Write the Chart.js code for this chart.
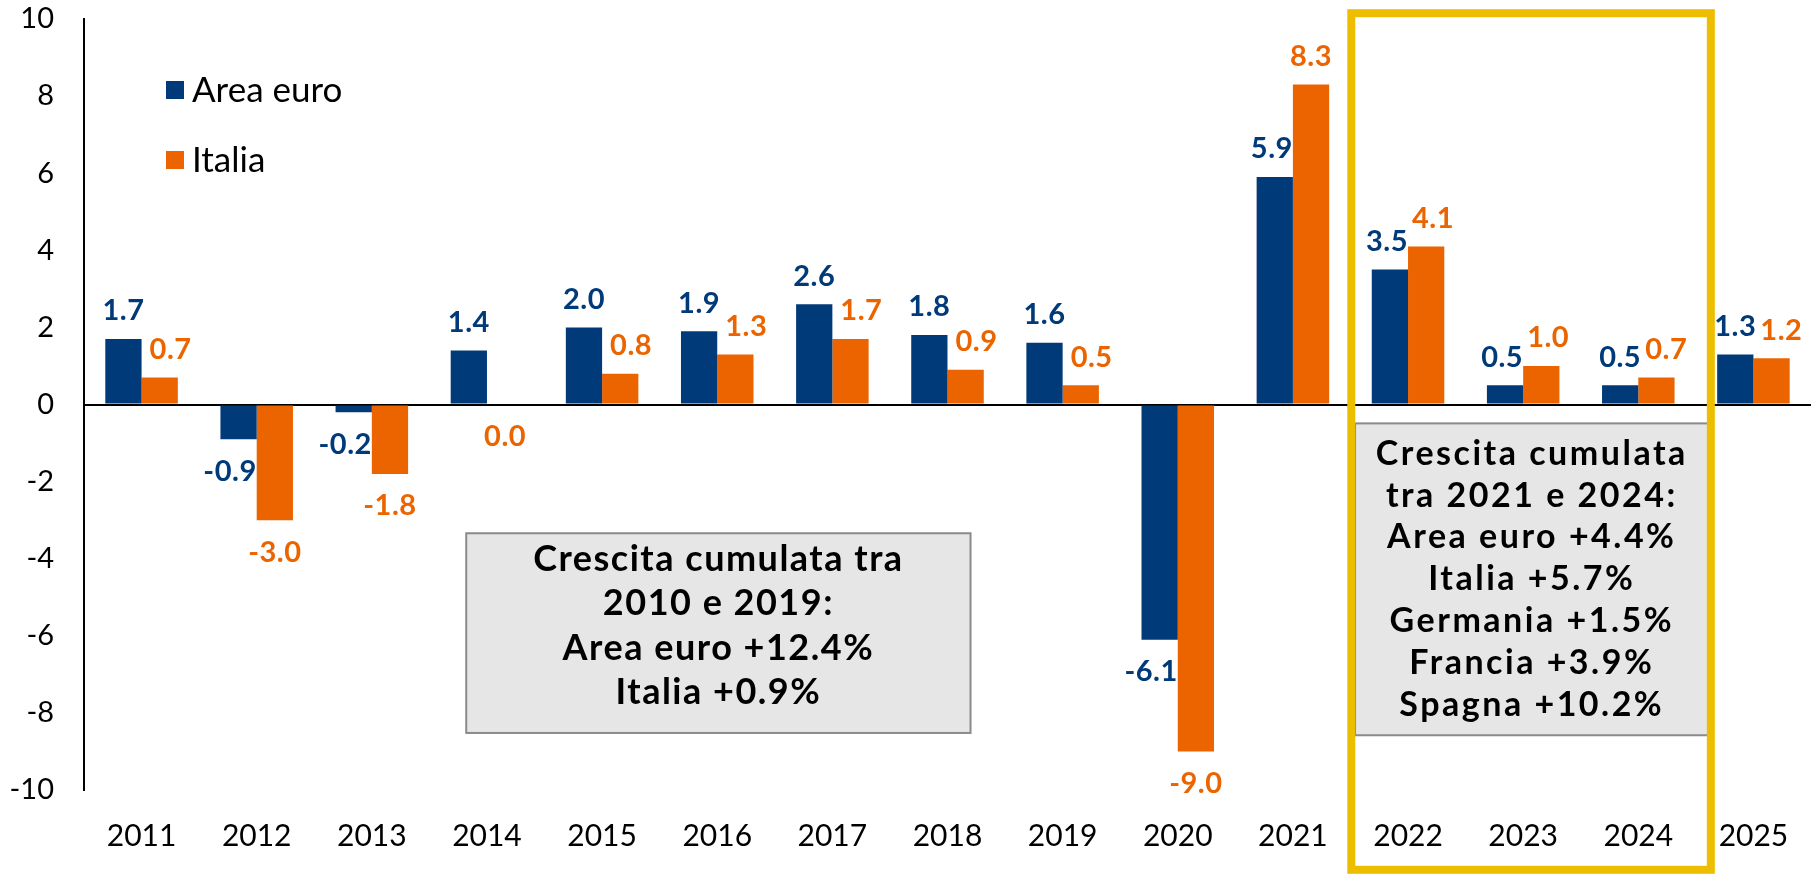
<!DOCTYPE html>
<html>
<head>
<meta charset="utf-8">
<script src="https://cdn.jsdelivr.net/npm/chart.js@4.4.1/dist/chart.umd.min.js"></script>
<style>
  html, body { margin: 0; padding: 0; background: #fff; }
  #wrap { width: 1816px; height: 878px; }
</style>
</head>
<body>
<div id="wrap"><canvas id="growth" width="1816" height="878"></canvas></div>
<script>
// real GDP growth, % yoy
const years = ['2011', '2012', '2013', '2014', '2015', '2016', '2017', '2018',
               '2019', '2020', '2021', '2022', '2023', '2024', '2025'];
const areaEuro = [1.7, -0.9, -0.2, 1.4, 2.0, 1.9, 2.6, 1.8, 1.6, -6.1, 5.9, 3.5, 0.5, 0.5, 1.3];
const italia   = [0.7, -3.0, -1.8, 0.0, 0.8, 1.3, 1.7, 0.9, 0.5, -9.0, 8.3, 4.1, 1.0, 0.7, 1.2];

const box1Lines = ['Crescita cumulata tra', '2010 e 2019:', 'Area euro +12.4%', 'Italia +0.9%'];
const box2Lines = ['Crescita cumulata', 'tra 2021 e 2024:', 'Area euro +4.4%', 'Italia +5.7%',
                   'Germania +1.5%', 'Francia +3.9%', 'Spagna +10.2%'];

const BLUE = '#003a78';
const ORANGE = '#eb6400';
const FONT = 'Lato';

// annotation boxes, in axis units (x = category index, y = value)
const notes = [
    { x0: 2.82, x1: 7.20, y0: -3.34, y1: -8.52, lines: box1Lines, gap: 44.5, dy: -7, size: 36, spacing: '1.5px' },
    { x0: 10.54, x1: 13.61, y0: -0.49, y1: -8.58, lines: box2Lines, gap: 41.8, dy: 0, size: 34, spacing: '2.5px' },
];
const frame = { x0: 10.507, x1: 13.63, y0: 10.15, y1: -12.07 };

const notesPlugin = {
    id: 'notes',
    afterDatasetsDraw(chart) {
        const ctx = chart.ctx
        const xs = chart.scales.x, ys = chart.scales.y
        ctx.save()
        notes.forEach((n) => {
            const l = xs.getPixelForValue(n.x0), r = xs.getPixelForValue(n.x1)
            const t = ys.getPixelForValue(n.y0), b = ys.getPixelForValue(n.y1)
            ctx.fillStyle = '#e6e6e6'
            ctx.fillRect(l, t, r - l, b - t)
            ctx.strokeStyle = '#8a8a8a'
            ctx.lineWidth = 2
            ctx.strokeRect(l, t, r - l, b - t)
            ctx.fillStyle = '#000'
            ctx.font = 'bold ' + n.size + 'px ' + FONT
            ctx.letterSpacing = n.spacing
            ctx.textAlign = 'center'
            ctx.textBaseline = 'middle'
            const cy = (t + b) / 2 + n.dy - (n.lines.length - 1) * n.gap / 2
            n.lines.forEach((s, i) => ctx.fillText(s, (l + r) / 2, cy + i * n.gap))
        })
        ctx.restore()
    },
    afterDraw(chart) {
        const ctx = chart.ctx
        const xs = chart.scales.x, ys = chart.scales.y
        const l = xs.getPixelForValue(frame.x0), r = xs.getPixelForValue(frame.x1)
        const t = ys.getPixelForValue(frame.y0), b = ys.getPixelForValue(frame.y1)
        ctx.save()
        ctx.strokeStyle = '#edbe00'
        ctx.lineWidth = 8
        ctx.strokeRect(l, t, r - l, b - t)

        // legend, top left inside the plot
        const ca = chart.chartArea
        ctx.font = '35px ' + FONT
        ctx.textBaseline = 'middle'
        ctx.textAlign = 'left'
        chart.data.datasets.forEach((ds, i) => {
            const y = ca.top + 71 + i * 70
            ctx.fillStyle = ds.backgroundColor
            ctx.fillRect(ca.left + 82, y - 9, 18, 18)
            ctx.fillStyle = '#000'
            ctx.fillText(ds.label, ca.left + 108, y + 1)
        })
        ctx.restore()
    }
};

// value labels, nudged sideways like excel does when they hit the other bar
const labelsPlugin = {
    id: 'barLabels',
    afterDatasetsDraw(chart) {
        const ctx = chart.ctx
        const zero = chart.scales.y.getPixelForValue(0)
        const m0 = chart.getDatasetMeta(0), m1 = chart.getDatasetMeta(1)
        const H = 13
        ctx.save()
        ctx.font = 'bold 29px ' + FONT
        ctx.letterSpacing = '0.5px'
        ctx.textAlign = 'center'
        ctx.textBaseline = 'middle'
        years.forEach((yr, i) => {
            const items = [m0.data[i], m1.data[i]].map((bar, k) => {
                const v = chart.data.datasets[k].data[i]
                const txt = v.toFixed(1)
                const half = bar.width / 2
                return {
                    txt: txt,
                    w: ctx.measureText(txt).width,
                    cx: bar.x,
                    cy: v > 0 ? bar.y - 28 : bar.y + 32,
                    left: bar.x - half,
                    right: bar.x + half,
                    top: Math.min(bar.y, zero),
                    bottom: Math.max(bar.y, zero),
                    color: chart.data.datasets[k].backgroundColor,
                }
            })
            const a = items[0], b = items[1]
            if (a.cy + H > b.top && a.cy - H < b.bottom) {
                a.cx = Math.min(a.cx, b.left - a.w / 2)
            }
            if (b.cy + H > a.top && b.cy - H < a.bottom) {
                b.cx = Math.max(b.cx, a.right + 8 + b.w / 2)
            }
            if (Math.abs(a.cy - b.cy) < 2 * H) {
                const overlap = (a.cx + a.w / 2) - (b.cx - b.w / 2)
                if (overlap > -4) b.cx += overlap + 4
            }
            items.forEach((it) => {
                ctx.fillStyle = it.color
                ctx.fillText(it.txt, it.cx, it.cy)
            })
        })
        ctx.restore()
    }
};

const ctx = document.getElementById('growth').getContext('2d');
new Chart(ctx, {
    type: 'bar',
    data: {
        labels: years,
        datasets: [
            { label: 'Area euro', data: areaEuro, backgroundColor: BLUE },
            { label: 'Italia', data: italia, backgroundColor: ORANGE },
        ]
    },
    options: {
        responsive: false,
        animation: false,
        devicePixelRatio: 1,
        layout: { padding: { top: 19, right: 5, left: 0, bottom: 0 } },
        datasets: { bar: { categoryPercentage: 0.63, barPercentage: 1.0 } },
        plugins: {
            legend: { display: false },
            tooltip: { enabled: false },
        },
        scales: {
            x: {
                grid: { display: false },
                border: { display: false },
                ticks: { color: '#000', font: { family: FONT, size: 30 }, padding: 20, maxRotation: 0 },
                afterFit: (s) => { s.height = 88; s.paddingLeft = 0; s.paddingRight = 0 },
            },
            y: {
                min: -10,
                max: 10,
                ticks: { stepSize: 2, color: '#000', font: { family: FONT, size: 29 }, padding: 30 },
                grid: {
                    drawTicks: false,
                    lineWidth: 2,
                    color: (c) => (c.tick && c.tick.value === 0 ? '#000' : 'rgba(0,0,0,0)'),
                },
                border: { display: true, color: '#000', width: 2 },
                afterFit: (s) => { s.width = 84; s.paddingTop = 0; s.paddingBottom = 0 },
            }
        }
    },
    plugins: [notesPlugin, labelsPlugin]
});
</script>
</body>
</html>
